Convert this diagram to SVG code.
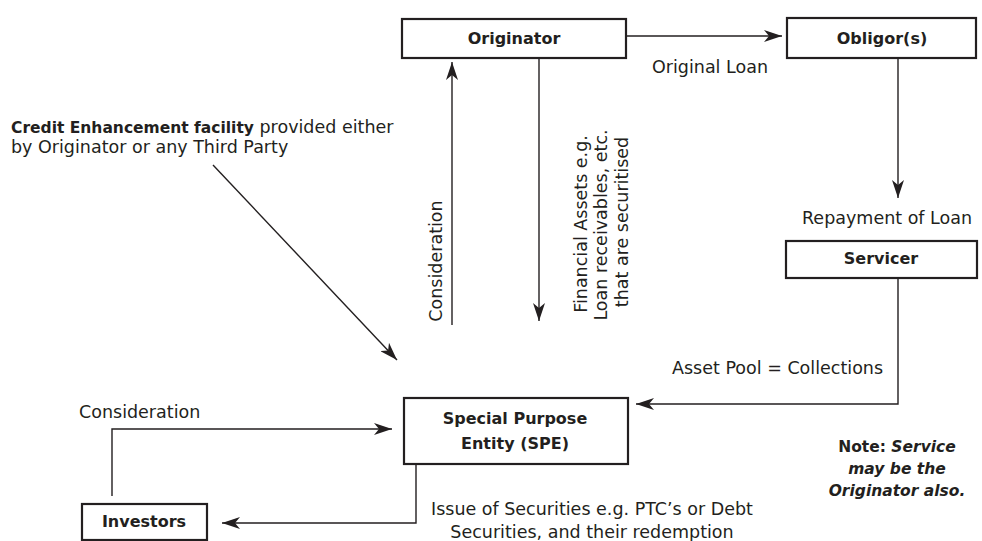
<svg xmlns="http://www.w3.org/2000/svg" width="982" height="541" viewBox="0 0 982 541">
<style>
  .box { fill: #ffffff; stroke: #231f20; stroke-width: 2.2; }
  .lbl { font-family: "DejaVu Sans", "Liberation Sans", sans-serif; font-weight: bold; font-size: 16px; fill: #231f20; text-anchor: middle; }
  .txt { font-family: "DejaVu Sans", "Liberation Sans", sans-serif; font-size: 17.5px; fill: #231f20; }
  .mid { text-anchor: middle; }
  .con { fill: none; stroke: #231f20; stroke-width: 1.4; marker-end: url(#arr); }
  .note { font-family: "DejaVu Sans", "Liberation Sans", sans-serif; font-weight: bold; font-size: 15.5px; fill: #231f20; text-anchor: middle; }
</style>
<defs>
  <marker id="arr" viewBox="0 0 18 12" refX="18" refY="6" markerWidth="18" markerHeight="12" markerUnits="userSpaceOnUse" orient="auto">
    <path d="M0,0 L18,6 L0,12 L5,6 Z" fill="#231f20"/>
  </marker>
</defs>
<rect width="982" height="541" fill="#ffffff"/>

<g id="connectors">
  <path class="con" d="M626,36 L782,36"/>
  <path class="con" d="M898,58 L898,198"/>
  <path class="con" d="M898,278 L898,404 L636,404"/>
  <path class="con" d="M452,325 L452,62"/>
  <path class="con" d="M539,58 L539,321"/>
  <path class="con" d="M213,165 L397,360"/>
  <path class="con" d="M112,496 L112,429 L392,429"/>
  <path class="con" d="M416,464 L416,523 L222,523"/>
</g>

<g id="originator">
  <rect class="box" x="402" y="19" width="224" height="39"/>
  <text class="lbl" x="514" y="44">Originator</text>
</g>
<g id="obligors">
  <rect class="box" x="787" y="18" width="189" height="40"/>
  <text class="lbl" x="882" y="44">Obligor(s)</text>
</g>
<g id="servicer">
  <rect class="box" x="786" y="241" width="191" height="37"/>
  <text class="lbl" x="881" y="264">Servicer</text>
</g>
<g id="spe">
  <rect class="box" x="404" y="398" width="224" height="66"/>
  <text class="lbl" x="515" y="424">Special Purpose</text>
  <text class="lbl" x="515" y="449">Entity (SPE)</text>
</g>
<g id="investors">
  <rect class="box" x="82" y="504" width="125" height="36"/>
  <text class="lbl" x="144" y="527">Investors</text>
</g>

<g id="labels">
  <text class="txt" x="652" y="73">Original Loan</text>
  <text class="txt" x="802" y="224">Repayment of Loan</text>
  <text class="txt" x="672" y="374">Asset Pool = Collections</text>
  <text class="txt" x="79" y="418">Consideration</text>
  <text class="txt mid" x="592" y="515">Issue of Securities e.g. PTC’s or Debt</text>
  <text class="txt mid" x="592" y="538">Securities, and their redemption</text>
  <text class="txt mid" transform="translate(442,261) rotate(-90)">Consideration</text>
  <text class="txt mid" transform="translate(587,224) rotate(-90)">Financial Assets e.g.</text>
  <text class="txt mid" transform="translate(607,225) rotate(-90)">Loan receivables, etc.</text>
  <text class="txt mid" transform="translate(628,222) rotate(-90)">that are securitised</text>
  <text class="txt" x="11" y="133"><tspan font-weight="bold" font-size="15.5px">Credit Enhancement facility</tspan> provided either</text>
  <text class="txt" x="11" y="153">by Originator or any Third Party</text>
  <text class="note" x="897" y="452">Note: <tspan font-style="italic">Service</tspan></text>
  <text class="note" x="897" y="474" font-style="italic">may be the</text>
  <text class="note" x="897" y="496" font-style="italic">Originator also.</text>
</g>
</svg>
